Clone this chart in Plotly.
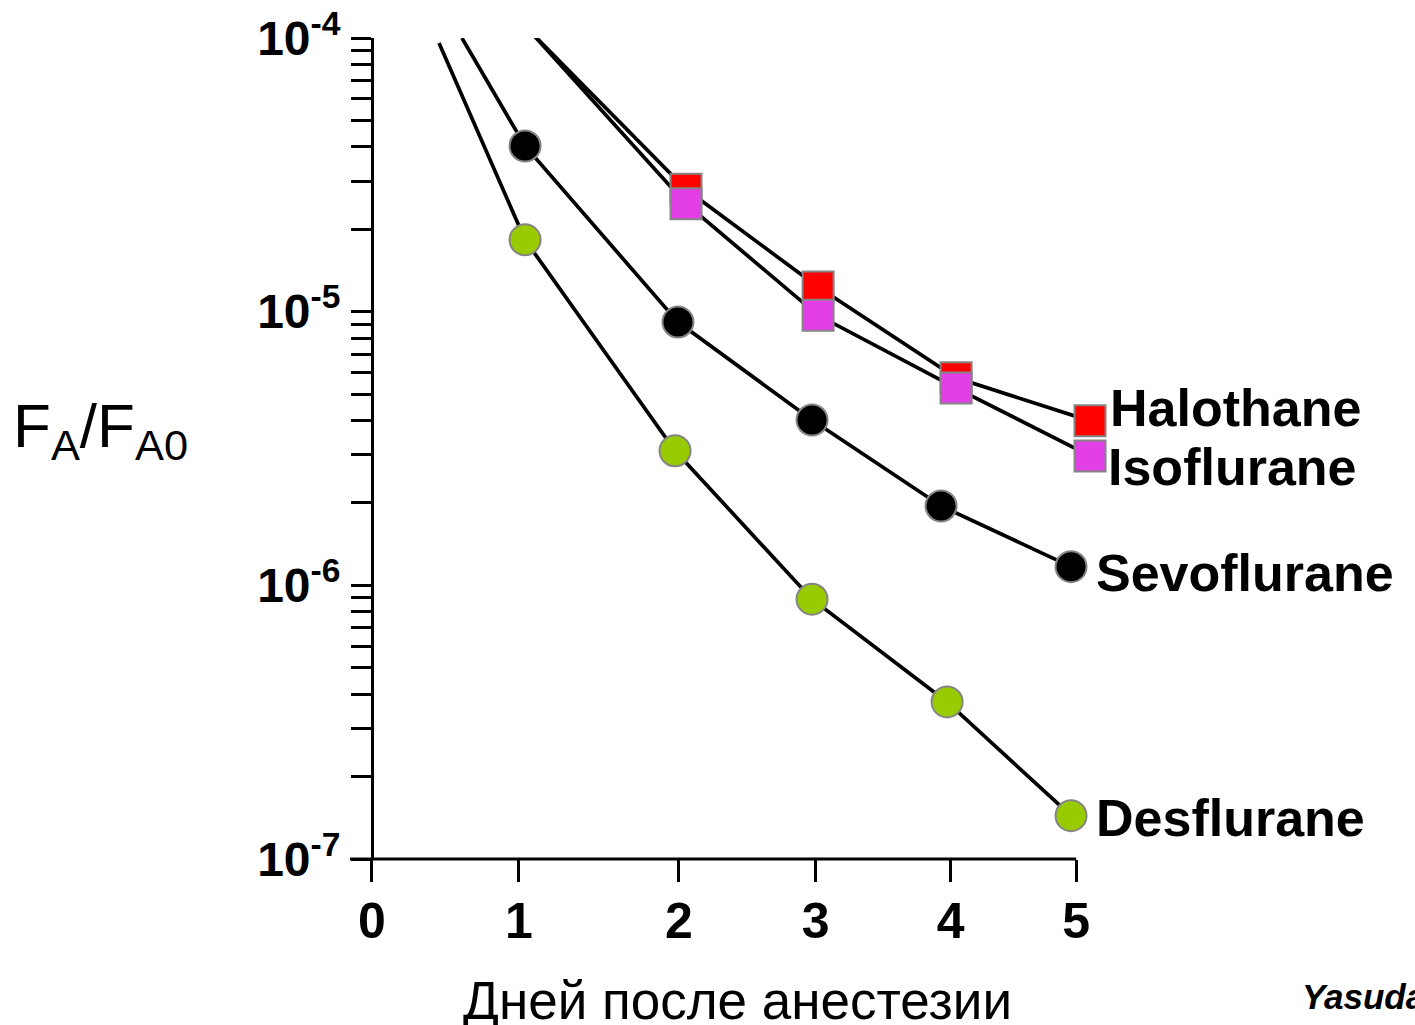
import numpy as np
import plotly.graph_objects as go

# ---------------- data ----------------
# x tick positions on the day axis as drawn, and their labels
day_tick_pos = [0.0, 1.044, 2.18, 3.15, 4.11, 5.0]
day_tick_labels = ["0", "1", "2", "3", "4", "5"]

halo_x = [2.230, 3.168, 4.148, 5.099]
halo_y = [2.80e-5, 1.23e-5, 5.73e-6, 3.99e-6]

iso_x = [2.230, 3.168, 4.148, 5.099]
iso_y = [2.48e-5, 9.70e-6, 5.26e-6, 2.97e-6]

sevo_x = [1.087, 2.173, 3.125, 4.041, 4.964]
sevo_y = [4.03e-5, 9.16e-6, 4.02e-6, 1.95e-6, 1.17e-6]

desf_x = [1.087, 2.152, 3.125, 4.084, 4.964]
desf_y = [1.83e-5, 3.10e-6, 8.90e-7, 3.75e-7, 1.44e-7]

# where each curve enters from the top of the chart
halo_start = (1.129, 1.05e-4)
iso_start = (1.129, 1.05e-4)
sevo_start = (0.639, 1.00e-4)
desf_start = (0.476, 9.59e-5)

series_names = ["Halothane", "Isoflurane", "Sevoflurane", "Desflurane"]

# y ticks: decades labelled, minor ticks unlabelled
decades = [-7, -6, -5, -4]
y_tickvals = []
y_ticktext = []
for d in decades:
    for m in range(1, 10):
        if d == -4 and m > 1:
            break
        y_tickvals.append(m * 10.0 ** d)
        y_ticktext.append(f"10<sup>{d}</sup>" if m == 1 else "")

# ---------------- styling ----------------
FONT = "Liberation Sans, Arial, sans-serif"
OUTLINE = "#858585"
X_MIN, X_MAX = -0.156, 5.12   # plot area extends a bit past the drawn axis end (5)
styles = {
    "Halothane": dict(symbol="square", color="#ff0000", size=31),
    "Isoflurane": dict(symbol="square", color="#e23fe6", size=31),
    "Sevoflurane": dict(symbol="circle", color="#000000", size=31),
    "Desflurane": dict(symbol="circle", color="#99cc00", size=31),
}
data = {
    "Halothane": (halo_x, halo_y, halo_start),
    "Isoflurane": (iso_x, iso_y, iso_start),
    "Sevoflurane": (sevo_x, sevo_y, sevo_start),
    "Desflurane": (desf_x, desf_y, desf_start),
}

fig = go.Figure()

# lines first
for name in series_names:
    xs, ys, st = data[name]
    fig.add_trace(go.Scatter(
        x=[st[0]] + xs, y=[st[1]] + ys, mode="lines",
        line=dict(color="black", width=3.7), showlegend=False, hoverinfo="skip"))

# markers on top
for name in series_names:
    xs, ys, st = data[name]
    s = styles[name]
    fig.add_trace(go.Scatter(
        x=xs, y=ys, mode="markers", name=name, cliponaxis=False,
        marker=dict(symbol=s["symbol"], color=s["color"], size=s["size"],
                    line=dict(color=OUTLINE, width=2)),
        showlegend=False))

# series labels next to the last point
label_offsets = {  # (xshift px, yshift px) from last point
    "Halothane": (18, 13),
    "Isoflurane": (16, -11),
    "Sevoflurane": (23, -6),
    "Desflurane": (23, -2),
}
for name in series_names:
    xs, ys, st = data[name]
    dx, dy = label_offsets[name]
    fig.add_annotation(
        x=xs[-1], y=np.log10(ys[-1]), xref="x", yref="y",
        text=name, showarrow=False, xanchor="left", yanchor="middle",
        xshift=dx, yshift=dy,
        font=dict(family=FONT, size=52, color="black", weight="bold"))

# horizontal axis line from the left edge to the last tick (5)
fig.add_shape(type="line", xref="x", yref="paper",
              x0=X_MIN, x1=day_tick_pos[-1], y0=0, y1=0,
              line=dict(color="black", width=3))

plot_w = 1415 - 350 - 322
# y axis title
fig.add_annotation(
    x=(100 - 350) / plot_w, y=0.5225, xref="paper", yref="paper",
    text="F<sub>A</sub>/F<sub>A0</sub>", showarrow=False,
    xanchor="center", yanchor="middle",
    font=dict(family=FONT, size=62, color="black"))

# x axis title
fig.add_annotation(
    x=(737 - 350) / plot_w, y=-0.172, xref="paper", yref="paper",
    text="Дней после анестезии", showarrow=False,
    xanchor="center", yanchor="middle",
    font=dict(family=FONT, size=53, color="black"))

# source
fig.add_annotation(
    x=(1300 - 350) / plot_w, y=-0.167, xref="paper", yref="paper",
    text="<i>Yasuda et al.</i>", showarrow=False,
    xanchor="left", yanchor="middle",
    font=dict(family=FONT, size=35, color="black", weight="bold"))

fig.update_layout(
    width=1415, height=1025,
    margin=dict(l=350, r=322, t=38, b=166, autoexpand=False),
    paper_bgcolor="white", plot_bgcolor="white",
    showlegend=False,
    xaxis=dict(
        range=[X_MIN, X_MAX], showgrid=False, zeroline=False, automargin=False,
        showline=False,
        ticks="outside", ticklen=22, tickwidth=3, tickcolor="black",
        tickvals=day_tick_pos, ticktext=day_tick_labels,
        ticklabelstandoff=-4,
        tickfont=dict(family=FONT, size=50, color="black", weight="bold"),
    ),
    yaxis=dict(
        type="log", range=[-7, -4], showgrid=False, zeroline=False, automargin=False,
        anchor="free", position=(372 - 350) / plot_w,
        showline=True, linecolor="black", linewidth=3,
        ticks="outside", ticklen=20, tickwidth=3, tickcolor="black",
        tickvals=y_tickvals, ticktext=y_ticktext,
        ticklabelstandoff=1,
        tickfont=dict(family=FONT, size=48, color="black", weight="bold"),
    ),
)

fig.write_html("out.html", config={"displayModeBar": False},
               post_script="document.body.style.margin='0';document.body.style.overflow='hidden';")
